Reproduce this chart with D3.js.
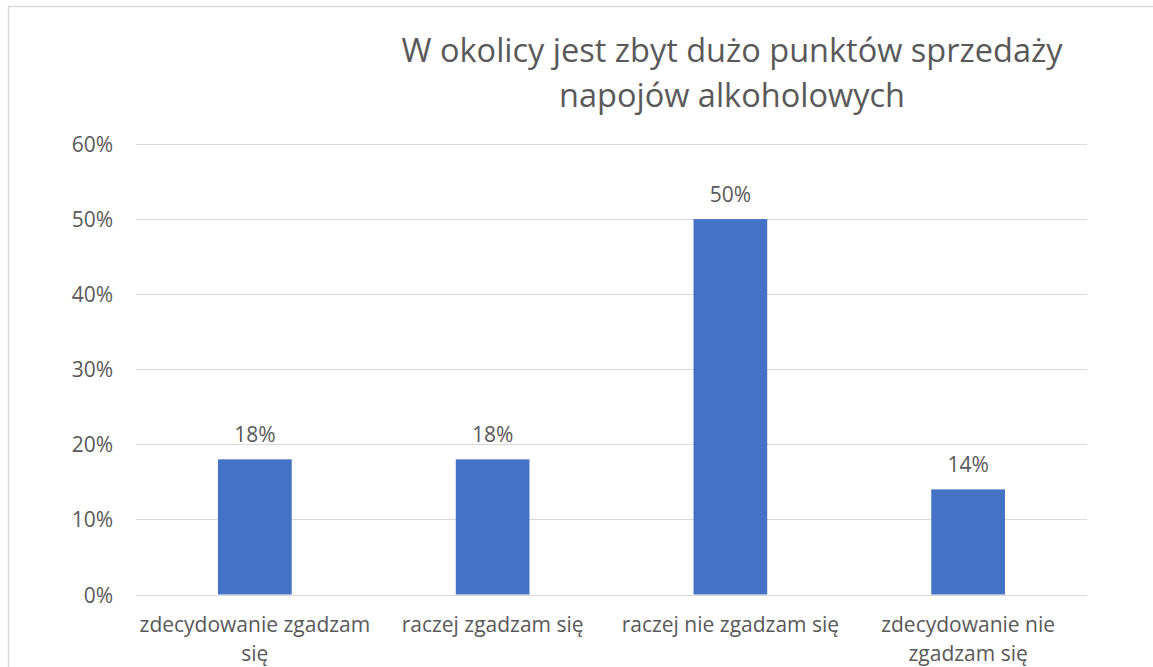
<!DOCTYPE html>
<html>
<head>
<meta charset="utf-8">
<script src="https://cdn.jsdelivr.net/npm/d3@7"></script>
<style>
  body { margin: 0; background: #fff; }
  text { font-family: "Open Sans", "Noto Sans", sans-serif; fill: #595959; }
</style>
</head>
<body>
<svg width="1153" height="667"></svg>
<script>
let categories = ["zdecydowanie zgadzam\nsię", "raczej zgadzam się", "raczej nie zgadzam się", "zdecydowanie nie\nzgadzam się"];
let values = [0.18, 0.18, 0.50, 0.14];
let yTicks = [0, 0.1, 0.2, 0.3, 0.4, 0.5, 0.6];
let titleLines = ["W okolicy jest zbyt dużo punktów sprzedaży", "napojów alkoholowych"];

let svg = d3.select("svg"),
    width = +svg.attr("width"),
    height = +svg.attr("height");

let margin = {top: 144, right: 66, bottom: 72, left: 136};

// chart frame
svg.append("rect")
    .attr("x", 8.5).attr("y", 6.5)
    .attr("width", width).attr("height", height)
    .attr("fill", "none")
    .attr("stroke", "#d9d9d9")
    .attr("stroke-width", 1.5);

let x = d3.scaleBand()
    .domain(categories)
    .range([margin.left, width - margin.right])
    .paddingInner(0.69)
    .paddingOuter(0.345);

let y = d3.scaleLinear()
    .domain([0, 0.6])
    .range([height - margin.bottom - 0.5, margin.top]);

let fmt = d3.format(".0%");

// gridlines
svg.append("g")
    .selectAll("line")
    .data(yTicks)
    .enter().append("line")
        .attr("x1", margin.left)
        .attr("x2", width - margin.right)
        .attr("y1", d => Math.round(y(d)) + 0.5)
        .attr("y2", d => Math.round(y(d)) + 0.5)
        .attr("stroke", "#d9d9d9")
        .attr("stroke-width", 1.2);

// y axis labels
let yAxis = d3.axisLeft(y).tickValues(yTicks).tickFormat(fmt).tickSize(0).tickPadding(23);
let gy = svg.append("g")
    .attr("transform", `translate(${margin.left},0)`)
    .call(yAxis);
gy.select(".domain").remove();
gy.selectAll("text")
    .attr("font-size", 21)
    .attr("font-family", null)
    .attr("fill", "#595959")
    .attr("dy", "0.36em");

// bars
svg.append("g")
    .selectAll("rect")
    .data(values)
    .enter().append("rect")
        .attr("x", (d, i) => x(categories[i]))
        .attr("y", d => y(d))
        .attr("width", x.bandwidth())
        .attr("height", d => y(0) - y(d))
        .attr("fill", "#4472c4");

// data labels
svg.append("g")
    .selectAll("text")
    .data(values)
    .enter().append("text")
        .attr("x", (d, i) => x(categories[i]) + x.bandwidth() / 2)
        .attr("y", d => y(d) - 17)
        .attr("text-anchor", "middle")
        .attr("font-size", 21)
        .text(d => fmt(d));

// category labels
let xl = svg.append("g")
    .selectAll("text")
    .data(categories)
    .enter().append("text")
        .attr("x", d => x(d) + x.bandwidth() / 2)
        .attr("y", 632)
        .attr("text-anchor", "middle")
        .attr("font-size", 21);
xl.selectAll("tspan")
    .data(d => d.split("\n").map(s => ({s: s, c: d})))
    .enter().append("tspan")
        .attr("x", d => x(d.c) + x.bandwidth() / 2)
        .attr("dy", (d, i) => i ? 29 : 0)
        .text(d => d.s);

// title
svg.append("text")
    .attr("x", 732)
    .attr("y", 62)
    .attr("text-anchor", "middle")
    .attr("font-size", 32.5)
    .selectAll("tspan")
    .data(titleLines)
    .enter().append("tspan")
        .attr("x", 732)
        .attr("dy", (d, i) => i ? 45 : 0)
        .text(d => d);
</script>
</body>
</html>
